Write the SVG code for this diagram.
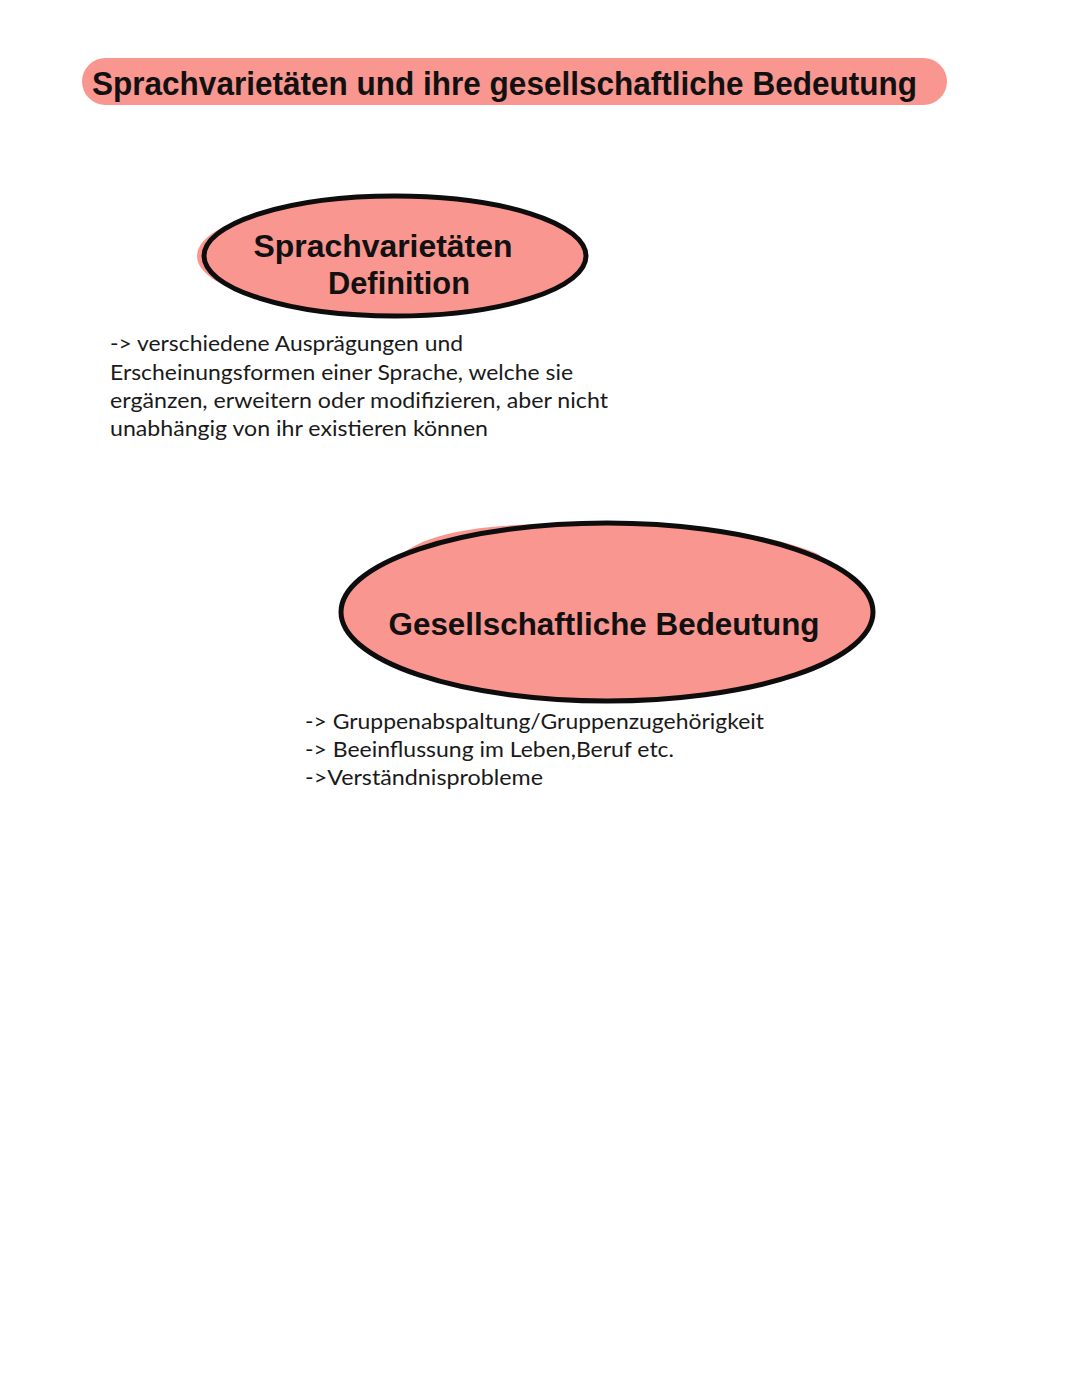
<svg xmlns="http://www.w3.org/2000/svg" width="1080" height="1394" viewBox="0 0 1080 1394">
<style>
.pink{fill:#F9968F;}
.outline{fill:#F9968F;stroke:#0d0d0d;stroke-width:5;}
.head{font-family:"Liberation Sans",Arial,sans-serif;font-weight:bold;fill:#111;}
.body{font-family:Lato,"Open Sans",sans-serif;font-size:21.5px;fill:#1a1a1a;}
</style>
<rect width="1080" height="1394" fill="#ffffff"/>
<g id="title">
<rect class="pink" x="82" y="58" width="865" height="47" rx="23.5"/>
<text class="head" x="92" y="95" font-size="33" textLength="825" lengthAdjust="spacingAndGlyphs">Sprachvarietäten und ihre gesellschaftliche Bedeutung</text>
</g>
<g id="node-definition">
<ellipse class="pink" cx="392" cy="256" rx="195" ry="58"/>
<ellipse class="outline" cx="395" cy="256" rx="191" ry="60"/>
<text class="head" x="383" y="257" font-size="31.5" text-anchor="middle" textLength="259" lengthAdjust="spacingAndGlyphs">Sprachvarietäten</text>
<text class="head" x="399" y="294" font-size="31.5" text-anchor="middle" textLength="142" lengthAdjust="spacingAndGlyphs">Definition</text>
</g>
<g id="text-definition">
<text class="body" x="110" y="351" textLength="353" lengthAdjust="spacingAndGlyphs">-&gt; verschiedene Ausprägungen und</text>
<text class="body" x="110" y="380" textLength="463" lengthAdjust="spacingAndGlyphs">Erscheinungsformen einer Sprache, welche sie</text>
<text class="body" x="110" y="408" textLength="498" lengthAdjust="spacingAndGlyphs">ergänzen, erweitern oder modifizieren, aber nicht</text>
<text class="body" x="110" y="436" textLength="378" lengthAdjust="spacingAndGlyphs">unabhängig von ihr existieren können</text>
</g>
<g id="node-bedeutung">
<path class="pink" d="M 395 560 C 420 535 470 524 560 524 C 680 522 770 532 820 555 L 830 600 L 400 600 Z"/>
<ellipse class="outline" cx="607" cy="612" rx="266" ry="89"/>
<text class="head" x="604" y="635" font-size="31.5" text-anchor="middle" textLength="431" lengthAdjust="spacingAndGlyphs">Gesellschaftliche Bedeutung</text>
</g>
<g id="text-bedeutung">
<text class="body" x="305" y="729" textLength="459" lengthAdjust="spacingAndGlyphs">-&gt; Gruppenabspaltung/Gruppenzugehörigkeit</text>
<text class="body" x="305" y="757" textLength="369" lengthAdjust="spacingAndGlyphs">-&gt; Beeinflussung im Leben,Beruf etc.</text>
<text class="body" x="305" y="785" textLength="238" lengthAdjust="spacingAndGlyphs">-&gt;Verständnisprobleme</text>
</g>
<g id="connectors"></g>
</svg>
